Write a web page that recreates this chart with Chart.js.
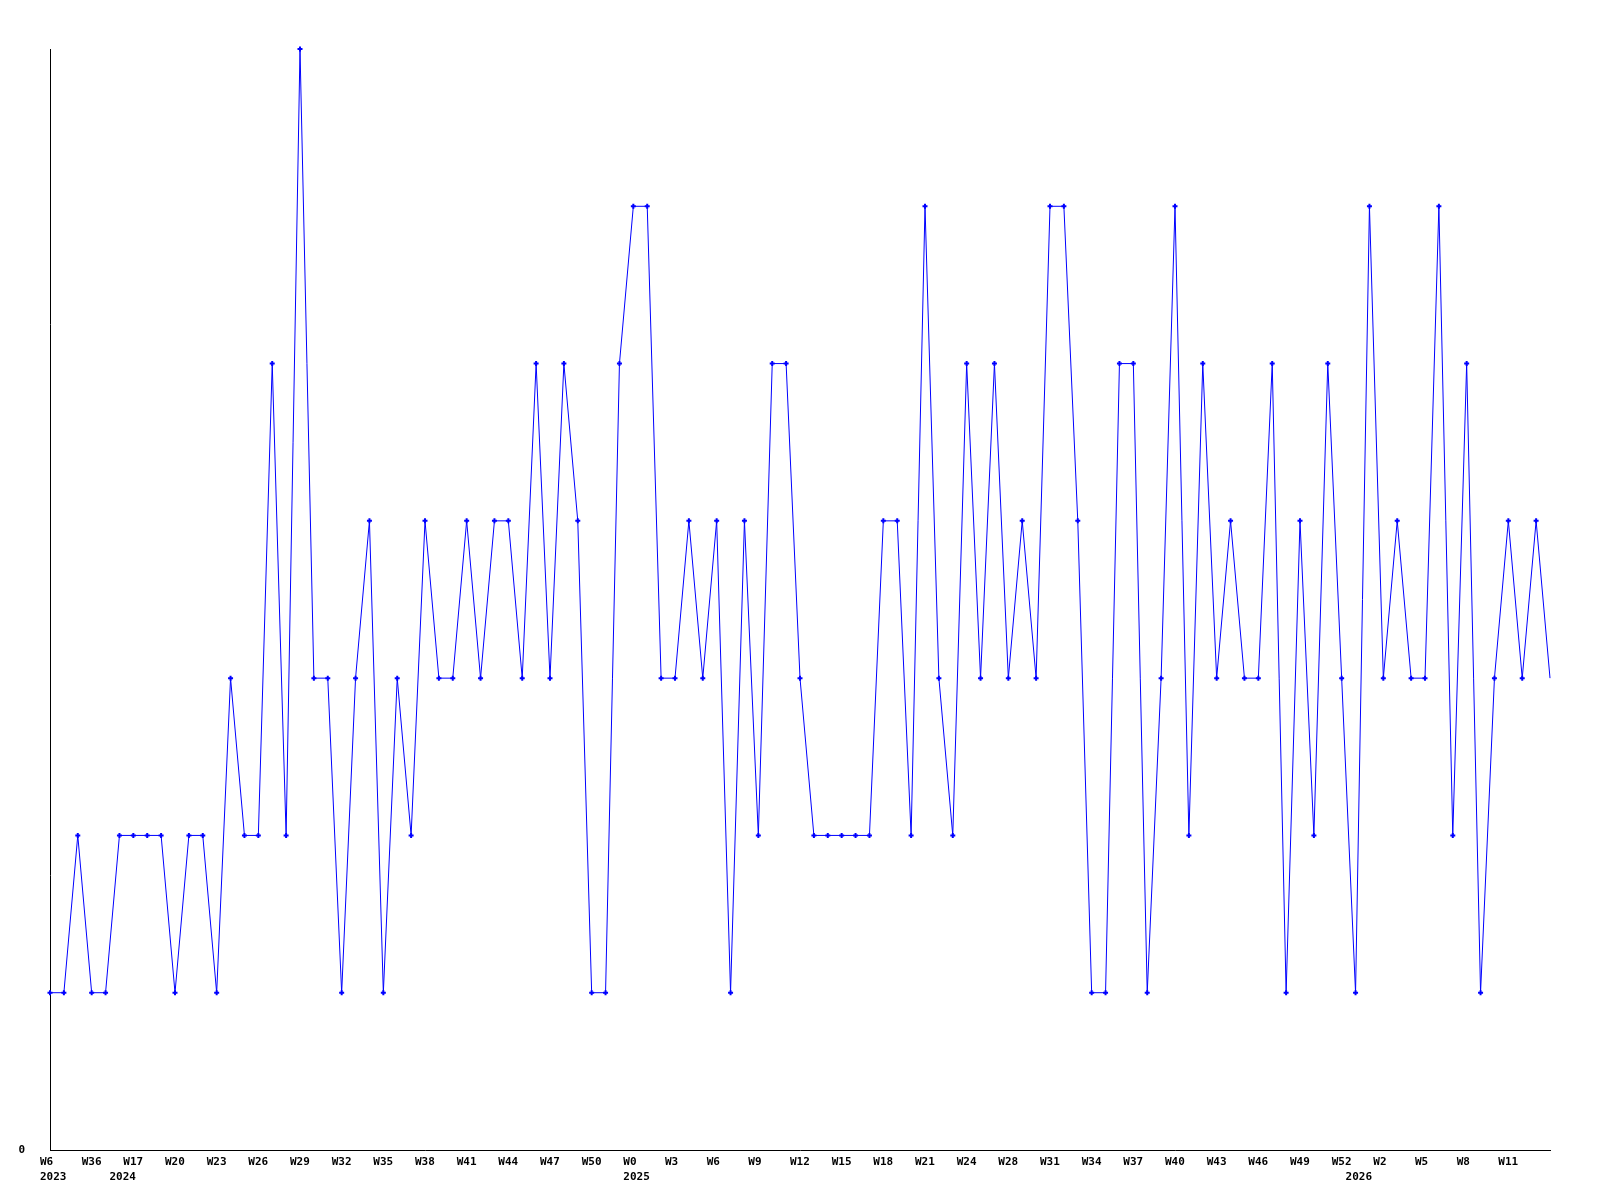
<!DOCTYPE html>
<html>
<head>
<meta charset="utf-8">
<title>Weekly chart</title>
<script src="https://cdn.jsdelivr.net/npm/chart.js@4/dist/chart.umd.min.js"></script>
<style>
  html, body { margin: 0; padding: 0; background: #fff; }
  canvas { display: block; }
</style>
</head>
<body>
<canvas id="weekChart" width="1600" height="1200"></canvas>
<script>
// Values per week
const weekValues = [
  1, 1, 2, 1, 1, 2, 2, 2, 2, 1, 2, 2, 1, 3, 2, 2, 5, 2, 7, 3,
  3, 1, 3, 4, 1, 3, 2, 4, 3, 3, 4, 3, 4, 4, 3, 5, 3, 5, 4, 1,
  1, 5, 6, 6, 3, 3, 4, 3, 4, 1, 4, 2, 5, 5, 3, 2, 2, 2, 2, 2,
  4, 4, 2, 6, 3, 2, 5, 3, 5, 3, 4, 3, 6, 6, 4, 1, 1, 5, 5, 1,
  3, 6, 2, 5, 3, 4, 3, 3, 5, 1, 4, 2, 5, 3, 1, 6, 3, 4, 3, 3,
  6, 2, 5, 1, 3, 4, 3, 4, 3
];

// Tick labels, shown on every third week
const weekTicks = [
  'W6', 'W36', 'W17', 'W20', 'W23', 'W26', 'W29', 'W32', 'W35', 'W38',
  'W41', 'W44', 'W47', 'W50', 'W0', 'W3', 'W6', 'W9', 'W12', 'W15',
  'W18', 'W21', 'W24', 'W28', 'W31', 'W34', 'W37', 'W40', 'W43', 'W46',
  'W49', 'W52', 'W2', 'W5', 'W8', 'W11'
];

// Year labels, keyed by the week index where the year starts
const yearStarts = { 0: '2023', 5: '2024', 42: '2025', 94: '2026' };

const labels = weekValues.map((v, i) => {
  let week = '';
  if (i % 3 === 0 && i / 3 < weekTicks.length) week = weekTicks[i / 3];
  if (yearStarts[i]) return [week, yearStarts[i]];
  return week;
});

// last week has no marker
const pointSizes = weekValues.map((v, i) => i === weekValues.length - 1 ? 0 : 2.5);

const tickFont = { family: '"DejaVu Sans Mono", monospace', size: 11, weight: 'bold', lineHeight: 15 / 11 };

Chart.defaults.color = '#000';

new Chart(document.getElementById('weekChart'), {
  type: 'line',
  data: {
    labels: labels,
    datasets: [{
      data: weekValues,
      borderColor: '#0000ff',
      backgroundColor: '#0000ff',
      borderWidth: 1,
      pointStyle: 'cross',
      pointRadius: pointSizes,
      pointBorderWidth: 2,
      pointBorderColor: '#0000ff',
      tension: 0,
      clip: false
    }]
  },
  options: {
    responsive: false,
    animation: false,
    events: [],
    layout: {
      padding: { top: 49, right: 50, left: 0, bottom: 0 }
    },
    plugins: {
      legend: { display: false },
      tooltip: { enabled: false }
    },
    scales: {
      x: {
        offset: false,
        grid: { display: false, drawTicks: false },
        border: { display: true, color: '#000', width: 1 },
        ticks: {
          autoSkip: false,
          maxRotation: 0,
          minRotation: 0,
          align: 'start',
          labelOffset: -10,
          padding: 5,
          font: tickFont
        },
        afterFit: (axis) => { axis.height = 50; }
      },
      y: {
        min: 0,
        max: 7,
        grid: { display: false, drawTicks: false },
        border: { display: true, color: '#000', width: 1 },
        ticks: {
          padding: 25,
          font: tickFont
        },
        afterBuildTicks: (axis) => { axis.ticks = [{ value: 0 }]; },
        afterFit: (axis) => { axis.width = 50; }
      }
    }
  }
});
</script>
</body>
</html>
